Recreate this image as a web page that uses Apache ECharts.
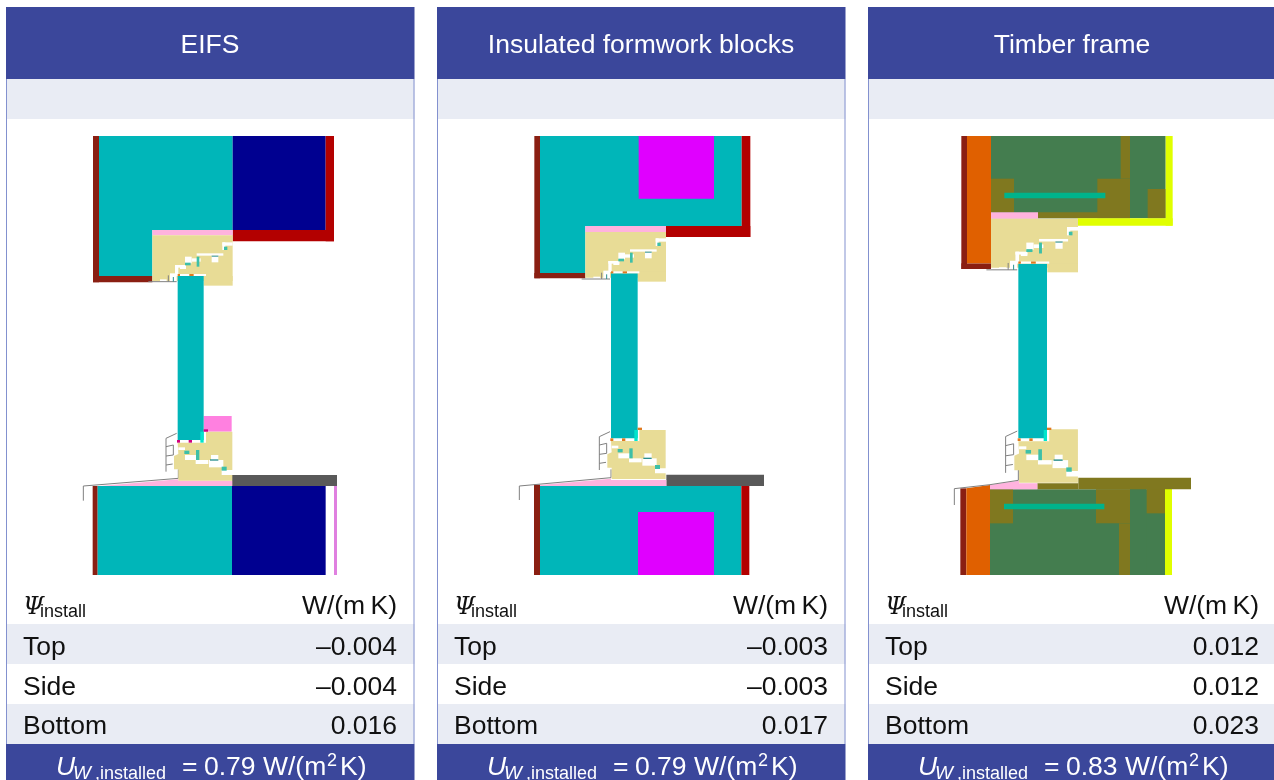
<!DOCTYPE html>
<html><head><meta charset="utf-8">
<style>html,body{margin:0;padding:0;background:#fff;overflow:hidden}#c{width:1274px;height:780px}</style>
<script src="https://cdn.jsdelivr.net/npm/echarts@6/dist/echarts.min.js"></script>
</head><body><div id="c"></div>
<script>
// ---------- table content ----------
const titles = ['EIFS', 'Insulated formwork blocks', 'Timber frame'];
const rowNames = ['Top', 'Side', 'Bottom'];
const psiEifs = ['–0.004', '–0.004', '0.016'];
const psiBlocks = ['–0.003', '–0.003', '0.017'];
const psiTimber = ['0.012', '0.012', '0.023'];
const uValues = ['0.79', '0.79', '0.83'];
const panelLefts = [6, 437, 868];
const rowBaselines = [661, 701, 740];

// ---------- colours ----------
const C = {head:'#3B479B', band:'#E9ECF4', edge:'#8391CF', teal:'#00B6B9', navy:'#000090', red:'#B30000', brown:'#8A1F12',
  pink:'#FFB3DE', cream:'#E8DC96', hot:'#FF80E0', mag:'#E000FF', grey:'#595959', line:'#808080', lilac:'#E080E0',
  green:'#447D4F', olive:'#80781F', orange:'#E06000', yellow:'#E0FF00', bar:'#00B38C', seal:'#3DBFA8', dot:'#D0007F',
  cyan:'#00E5CC', amber:'#E07A20', white:'#FFFFFF', blush:'#FFD0F5', dark:'#2A8F8F'};

// ---------- section drawings, in units of 1/3 px from each block's origin ----------
const eifsTop = [
  ['r',39,33,57,472,'brown'],['r',39,453,217,472,'brown'],
  ['r',57,33,458,315,'teal'],['r',57,315,217,453,'teal'],
  ['r',458,33,737,315,'navy'],['r',737,33,762,349,'red'],['r',458,315,762,349,'red'],
  ['r',217,315,458,331,'pink'],['r',217,331,458,468,'cream'],['r',371,453,458,482,'cream']];
const eifsBottom = [
  ['r',371,198,455,245,'hot'],
  ['r',38,408,53,675,'brown'],['r',53,408,456,675,'teal'],['r',456,408,737,675,'navy'],['r',762,408,771,675,'lilac'],
  ['r',456,375,771,408,'grey'],
  ['p',[[60,408],[295,388],[295,392],[457,392],[457,408]],'pink'],
  ['l',[[10,452],[10,408],[295,385],[295,358]],'line']];
const blocksTop = [
  ['r',73,33,90,460,'brown'],['r',73,444,226,460,'brown'],
  ['r',90,33,695,303,'teal'],['r',90,303,226,444,'teal'],['r',386,33,612,221,'mag'],
  ['r',695,33,721,336,'red'],['r',468,303,721,336,'red'],
  ['r',226,303,468,321,'pink'],['r',226,321,468,458,'cream'],['r',383,440,468,470,'cream']];
const blocksBottom = [
  ['r',72,404,90,675,'brown'],['r',90,408,694,675,'teal'],['r',384,486,612,675,'mag'],['r',694,408,718,675,'red'],
  ['r',469,374,762,408,'grey'],
  ['p',[[90,405],[303,386],[303,390],[469,390],[469,408],[90,408]],'pink'],
  ['l',[[28,450],[28,408],[303,383],[303,358]],'line']];
const timberTop = [
  ['r',49,33,66,432,'brown'],['r',49,415,138,432,'brown'],['r',66,33,138,415,'orange'],
  ['r',138,33,662,280,'green'],['r',138,161,207,262,'olive'],['r',457,161,555,280,'olive'],['r',527,33,555,161,'olive'],
  ['r',279,262,555,280,'olive'],['r',608,192,662,280,'olive'],['r',178,203,481,220,'bar'],
  ['r',662,33,683,302,'yellow'],['r',397,280,683,302,'yellow'],
  ['r',138,262,279,281,'pink'],['r',138,281,399,428,'cream'],['r',307,416,399,442,'cream']];
const timberBottom = [
  ['r',46,415,64,675,'brown'],['p',[[64,415],[135,405],[135,675],[64,675]],'orange'],
  ['r',135,418,660,675,'green'],['r',135,418,204,520,'olive'],['r',453,418,555,520,'olive'],['r',522,520,555,675,'olive'],
  ['r',555,400,605,675,'green'],['r',605,400,660,490,'olive'],['r',177,461,478,478,'bar'],['r',660,400,681,675,'yellow'],
  ['r',400,383,738,418,'olive'],['r',277,400,400,418,'olive'],
  ['p',[[135,405],[222,392],[222,400],[277,400],[277,418],[135,418]],'pink'],
  ['l',[[28,465],[28,416],[135,404],[220,391],[220,358]],'line']];

// shared window-frame details, relative to the glass corner
const headGaps = [
  ['r',-8,-33,2,0,'white'],['r',-8,-33,25,-25,'white'],['r',7,-30,25,-21,'white'],['r',22,-58,42,-38,'white'],
  ['r',42,-53,69,-43,'white'],['r',57,-68,137,-61,'white'],['r',102,-61,122,-41,'white'],
  ['r',134,-101,165,-91,'white'],['r',134,-101,143,-78,'white'],
  ['r',22,-40,39,-32,'seal'],['r',57,-58,65,-28,'seal'],['r',139,-88,149,-78,'seal'],['r',102,-61,122,-58,'dark']];
const headEdge = [
  ['r',-53,10,-33,15,'white'],['r',-23,-8,-3,17,'white'],
  ['r',4,-6,85,0,'white'],['r',0,-6,7,0,'amber'],['r',35,-6,48,0,'amber'],
  ['l',[[-88,17],[-3,17]],'line'],['l',[[-28,-2],[-28,17]],'line'],['l',[[-13,3],[-13,17]],'dark']];
const sillFrame = [['p',[[0,8],[85,8],[85,-25],[164,-25],[164,90],[132,90],[132,105],[164,105],[164,122],[2,122],[2,88],[-11,88],[-11,48],[2,42]],'cream'],
  ['r',2,22,22,30,'white'],['r',22,45,57,60,'white'],['r',54,60,92,72,'white'],['r',94,60,137,82,'white'],['r',100,45,122,60,'white'],
  ['r',20,32,35,42,'seal'],['r',55,30,65,60,'seal'],['r',132,80,147,92,'seal'],['r',97,58,122,62,'dark'],
  ['l',[[-35,95],[-35,-5],[-3,-20]],'line'],['l',[[-35,20],[-13,15]],'line'],['l',[[-35,48],[-13,45]],'line'],['l',[[-35,75],[-15,72]],'line'],['l',[[-13,15],[-13,45]],'line']];

// origin of each crop in the page, glass corners and glass rectangles
const blocks = [
  {top:eifsTop, bottom:eifsBottom, ox:80, tx:293, ty:453, bx:293, by:270, gr:371, s:1, seal:'dot', stairDy:0},
  {top:blocksTop, bottom:blocksBottom, ox:510, tx:303, ty:445, bx:303, by:265, gr:383, s:1, seal:'amber', stairDy:-4},
  {top:timberTop, bottom:timberBottom, ox:945, tx:220, ty:416, bx:220, by:265, gr:306, s:1.09, seal:'amber', stairDy:0}
];

// ---------- flatten to page units ----------
const shapes = [];
function add(list, ox, oy, ax, ay, s) {
  list.forEach(it => {
    const X = v => ox + (ax + v * s) / 3, Y = v => oy + (ay + v * s) / 3;
    if (it[0] === 'r') shapes.push({k:'r', x0:X(it[1]), y0:Y(it[2]), x1:X(it[3]), y1:Y(it[4]), c:C[it[5]]});
    else shapes.push({k:it[0], pts:it[1].map(p => [X(p[0]), Y(p[1])]), c:C[it[2]]});
  });
}
panelLefts.forEach((L, i) => {
  const R = L + 408.5;
  [[L,7,R,79,'head'],[L,79,R,119,'band'],[L,624,R,664,'band'],[L,704,R,744,'band'],[L,744,R,780,'head'],
   [L,79,L+1,744,'edge'],[R-1,79,R,744,'edge']].forEach(a =>
    shapes.push({k:'r', x0:a[0], y0:a[1], x1:a[2], y1:a[3], c:C[a[4]]}));
});
blocks.forEach(b => {
  const oyT = 125, oyB = 350;
  add(b.top, b.ox, oyT, 0, 0, 1);
  add(headGaps, b.ox, oyT, b.tx, b.ty + b.stairDy, b.s);
  add(b.bottom, b.ox, oyB, 0, 0, 1);
  add(sillFrame, b.ox, oyB, b.bx, b.by, b.s);
  // glass pane
  shapes.push({k:'r', x0:b.ox + b.tx / 3, y0:oyT + b.ty / 3, x1:b.ox + b.gr / 3, y1:oyB + b.by / 3, c:C.teal});
  add(headEdge, b.ox, oyT, b.tx, b.ty, b.s);
  const w = b.gr - b.bx;
  add([['r',-2,0,7,8,b.seal],['r',33,0,43,8,b.seal],['r',w-10,-25,w,8,'cyan'],['r',w,-32,w+13,-25,b.seal]], b.ox, oyB, b.bx, b.by, 1);
});

// ---------- text ----------
const texts = [];
const T = (x, y, s, size, opt = {}) => texts.push({x, y, s, size, align:opt.align||'left', fill:opt.fill||'#111', style:opt.style||'normal', fam:opt.fam||'"Liberation Sans"'});
const psi = [psiEifs, psiBlocks, psiTimber];
panelLefts.forEach((L, i) => {
  T(L + 204, 59, titles[i], 26.5, {align:'center', fill:'#fff'});
  T(L + 17, 620, 'Ψ', 24, {style:'italic', fam:'"DejaVu Serif"'});
  T(L + 34, 621, 'install', 18);
  T(L + 391, 620, 'W/(m\u2009K)', 26.5, {align:'right'});
  rowNames.forEach((n, r) => {
    T(L + 17, rowBaselines[r], n, 26.5);
    T(L + 391, rowBaselines[r], psi[i][r], 26.5, {align:'right'});
  });
  const wh = {fill:'#fff'};
  T(L + 50, 781, 'U', 26.5, {fill:'#fff', style:'italic'});
  T(L + 67, 783, 'W', 19, {fill:'#fff', style:'italic'});
  T(L + 89, 783, ',installed', 18, wh);
  T(L + 176, 781, '=', 26.5, wh);
  T(L + 198, 781, uValues[i], 26.5, wh);
  T(L + 257, 781, 'W/(m', 26.5, wh);
  T(L + 321, 770, '2', 18, wh);
  T(L + 334, 781, 'K)', 26.5, wh);
});

// ---------- chart ----------
const chart = echarts.init(document.getElementById('c'), null, {renderer:'canvas'});
chart.setOption({
  animation:false,
  backgroundColor:'#fff',
  grid:{left:0, right:0, top:0, bottom:0},
  xAxis:{type:'value', min:0, max:1274, show:false},
  yAxis:{type:'value', min:0, max:780, inverse:true, show:false},
  series:[
    {type:'custom', coordinateSystem:'cartesian2d', clip:false, silent:true,
     data:shapes.map((s, i) => [s.x0 ?? s.pts[0][0], s.y0 ?? s.pts[0][1], i]),
     encode:{x:0, y:1},
     renderItem(params, api) {
       const s = shapes[params.dataIndex];
       if (s.k === 'r') {
         const a = api.coord([s.x0, s.y0]), b = api.coord([s.x1, s.y1]);
         return {type:'rect', shape:{x:a[0], y:a[1], width:b[0]-a[0], height:b[1]-a[1]}, style:{fill:s.c}};
       }
       const pts = s.pts.map(p => api.coord(p));
       if (s.k === 'p') return {type:'polygon', shape:{points:pts}, style:{fill:s.c}};
       return {type:'polyline', shape:{points:pts}, style:{stroke:s.c, lineWidth:1, fill:null}};
     }},
    {type:'custom', coordinateSystem:'cartesian2d', clip:false, silent:true, z:5,
     data:texts.map((t, i) => [t.x, t.y, i]),
     encode:{x:0, y:1},
     renderItem(params, api) {
       const t = texts[params.dataIndex], p = api.coord([t.x, t.y]);
       return {type:'text', x:p[0], y:p[1], style:{text:t.s, fill:t.fill, align:t.align, verticalAlign:'bottom',
         font:`${t.style} ${t.size}px ${t.fam}`}};
     }}
  ]
});
</script></body></html>
